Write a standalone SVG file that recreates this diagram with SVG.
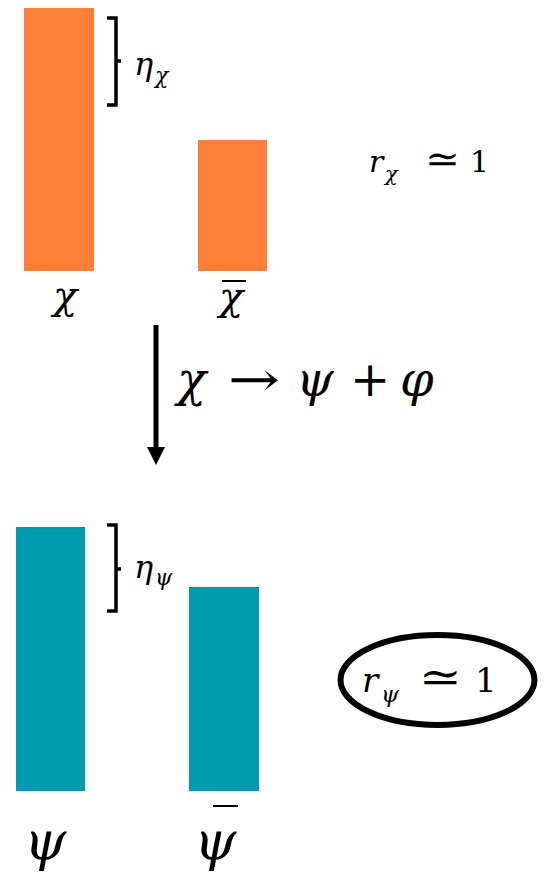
<svg xmlns="http://www.w3.org/2000/svg" width="554" height="875" viewBox="0 0 554 875">
<style>
.o{fill:#FE7F37}
.t{fill:#009BAC}
.br{fill:none;stroke:#000;stroke-width:3.5;stroke-linejoin:miter}
.m{font-family:"DejaVu Serif","Liberation Serif",serif;font-style:italic;fill:#000}
.r{font-family:"DejaVu Serif","Liberation Serif",serif;font-style:normal;fill:#000}
</style>
<rect width="554" height="875" fill="#fff"/>
<g id="chi">
<rect class="o" x="24" y="8" width="70" height="263"/>
<text class="m" x="53" y="309" font-size="40">χ</text>
</g>
<g id="chibar">
<rect class="o" x="198" y="140" width="69" height="131"/>
<text class="m" x="219" y="310" font-size="40">χ</text>
<line x1="222" y1="281" x2="246" y2="281" stroke="#000" stroke-width="2"/>
</g>
<g id="eta-chi">
<path class="br" d="M107,18 H116 V105 H107 M116,61 H121"/>
<text class="m" x="134" y="75" font-size="32">η</text>
<text class="m" x="155" y="83" font-size="22">χ</text>
</g>
<g id="r-chi">
<text class="m" x="369" y="172" font-size="30">r</text>
<text class="m" x="385" y="181" font-size="21">χ</text>
<text class="r" x="425" y="172" font-size="38" textLength="35" lengthAdjust="spacingAndGlyphs">≃</text>
<text class="r" x="470" y="172" font-size="30">1</text>
</g>
<g id="connectors">
<line x1="156" y1="325" x2="156" y2="450" stroke="#000" stroke-width="5"/>
<path d="M147,447 L165,447 L156,465 z" fill="#000"/>
</g>
<g id="reaction">
<text class="m" x="177" y="396" font-size="48">χ</text>
<text class="r" x="228" y="396" font-size="48" textLength="52" lengthAdjust="spacingAndGlyphs">→</text>
<text class="m" x="296" y="396" font-size="48">ψ</text>
<text class="r" x="350" y="396" font-size="48">+</text>
<text class="m" x="400" y="396" font-size="48">φ</text>
</g>
<g id="psi">
<rect class="t" x="16" y="527" width="69" height="264"/>
<text class="m" x="24" y="860" font-size="54">ψ</text>
</g>
<g id="psibar">
<rect class="t" x="189" y="587" width="70" height="204"/>
<text class="m" x="194" y="860" font-size="54">ψ</text>
<line x1="213" y1="806" x2="238" y2="806" stroke="#000" stroke-width="2"/>
</g>
<g id="eta-psi">
<path class="br" d="M107,525 H116 V611 H107 M116,569 H121"/>
<text class="m" x="134" y="578" font-size="32">η</text>
<text class="m" x="155" y="585" font-size="22">ψ</text>
</g>
<g id="r-psi">
<ellipse cx="437.5" cy="680" rx="97" ry="45" fill="none" stroke="#000" stroke-width="6"/>
<text class="m" x="362" y="692" font-size="34">r</text>
<text class="m" x="381" y="702" font-size="23">ψ</text>
<text class="r" x="419" y="692" font-size="44" textLength="43" lengthAdjust="spacingAndGlyphs">≃</text>
<text class="r" x="475" y="692" font-size="34">1</text>
</g>
</svg>
